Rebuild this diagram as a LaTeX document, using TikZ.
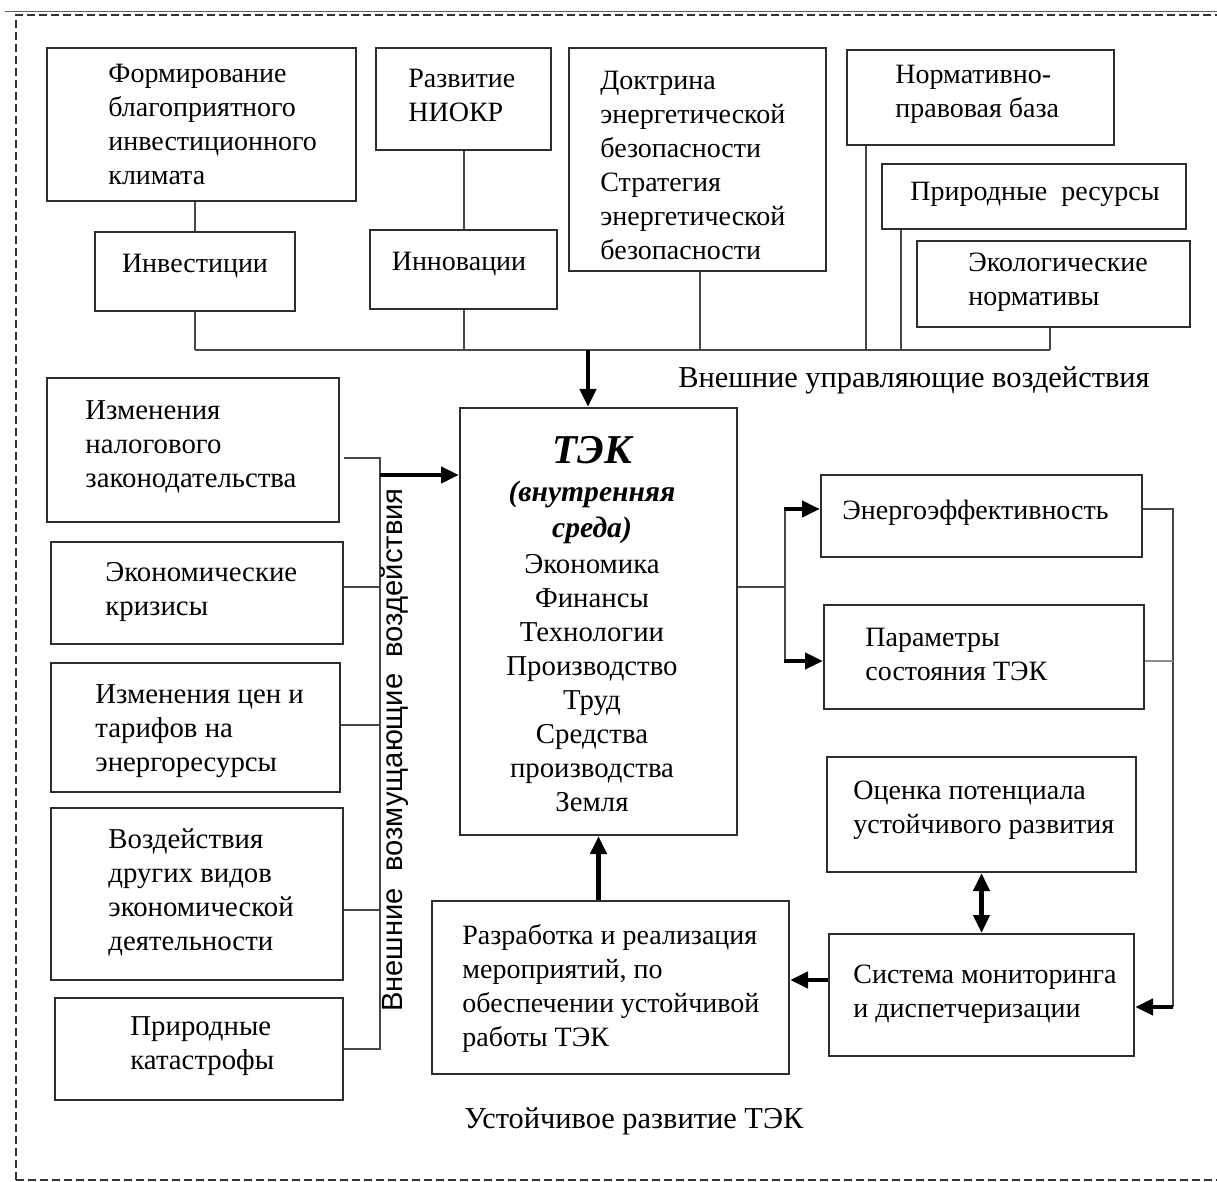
\documentclass[tikz,border=0pt]{standalone}
\usepackage{fontspec}
\setmainfont{Liberation Serif}
\newfontfamily\sansf{Liberation Sans}
\usetikzlibrary{arrows.meta,calc,fit}

% rectangle given by its two corners (in px units)
\newcommand\mkbox[5]{\node[box, fit={(#2,#3) (#4,#5)}] (#1) {};}

\begin{document}
\begin{tikzpicture}[x=0.5pt,y=-0.5pt,
  box/.style={draw=black!82, line width=1pt, inner sep=0pt},
  txt/.style={align=left, inner sep=0pt, anchor=west, font=\fontsize{14}{17}\selectfont},
  ltxt/.style={txt, font=\fontsize{14.4}{17}\selectfont},
  ctxt/.style={align=center, inner sep=0pt, font=\fontsize{14}{17}\selectfont},
  conn/.style={draw=black!72, line width=1pt},
  bigarrow/.style={draw=black, line width=2.4pt, -{Triangle[length=9pt,width=8pt]}},
  frame/.style={draw=black!80, line width=0.8pt, dash pattern=on 4pt off 2pt},
]
\useasboundingbox (0,0) rectangle (1217,1182);

% outer frame
\draw[draw=blue!55!cyan, line width=0.5pt] (5,12) -- (1217,12);
\draw[frame] (16,1180) -- (16,15) -- (1217,15);
\draw[frame] (16,1180) -- (1217,1180);

% ---- upper group: controlling influences ----
\mkbox{form}{47}{48}{356}{201}
\mkbox{inv}{95}{232}{295}{311}
\mkbox{niokr}{376}{48}{551}{150}
\mkbox{inn}{370}{230}{557}{309}
\mkbox{dokt}{569}{48}{826}{271}
\mkbox{norm}{847}{50}{1114}{145}
\mkbox{res}{882}{164}{1186}{229}
\mkbox{eco}{917}{241}{1190}{327}

\node[txt] (t-form) at (108,124.5) {Формирование\\благоприятного\\инвестиционного\\климата};
\node[ctxt] (t-inv) at (195,266) {Инвестиции};
\node[txt] (t-niokr) at (408,95) {Развитие\\НИОКР};
\node[ctxt] (t-inn) at (459,264) {Инновации};
\node[txt] (t-dokt) at (600,165) {Доктрина\\энергетической\\безопасности\\Стратегия\\энергетической\\безопасности};
\node[txt] (t-norm) at (895,94.5) {Нормативно-\\правовая база};
\node[txt] (t-res) at (910,194) {Природные\ \ ресурсы};
\node[txt] (t-eco) at (968,282.5) {Экологические\\нормативы};
\node[txt, font=\fontsize{15.2}{18}\selectfont] (t-upper) at (678,380) {Внешние управляющие воздействия};

\coordinate (busL) at (190,350);
\coordinate (busR) at (1050,350);
\coordinate (busA) at (588,350);
\coordinate (xD) at (700,350);
\coordinate (xN) at (866,350);
\coordinate (xP) at (901,350);

\draw[conn] (busL -| inv.south) -- (busR);
\draw[conn] (inv.north) -- (inv.north |- form.south);
\draw[conn] (inv.south) -- (inv.south |- busL);
\draw[conn] (inn.north) -- (inn.north |- niokr.south);
\draw[conn] (inn.south) -- (inn.south |- busL);
\draw[conn] (xD |- dokt.south) -- (xD);
\draw[conn] (xN |- norm.south) -- (xN);
\draw[conn] (xP |- res.south) -- (xP);
\draw[conn] (busR |- eco.south) -- (busR);

% ---- central block ----
\mkbox{tek}{460}{408}{737}{835}
\node[inner sep=0pt, font=\fontsize{20.5}{24}\selectfont\bfseries\itshape] (t-tek) at (592,450) {ТЭК};
\node[ctxt, font=\fontsize{14.8}{18}\selectfont\bfseries\itshape] (t-sreda) at (592,512) {(внутренняя\\среда)};
\node[ctxt, font=\fontsize{14.4}{17}\selectfont] (t-list) at (592,683.5) {Экономика\\Финансы\\Технологии\\Производство\\Труд\\Средства\\производства\\Земля};

\draw[bigarrow] (busA) -- (busA |- tek.north);

% ---- left group: disturbing influences ----
\mkbox{nal}{47}{378}{339}{522}
\mkbox{krz}{51}{542}{343}{644}
\mkbox{cen}{51}{663}{340}{792}
\mkbox{vzd}{51}{808}{343}{980}
\mkbox{kat}{55}{998}{343}{1100}

\node[ltxt] (t-nal) at (85,447) {Изменения\\налогового\\законодательства};
\node[ltxt] (t-krz) at (105,592.5) {Экономические\\кризисы};
\node[ltxt] (t-cen) at (95,731) {Изменения цен и\\тарифов на\\энергоресурсы};
\node[ltxt] (t-vzd) at (108,892.5) {Воздействия\\других видов\\экономической\\деятельности};
\node[ltxt] (t-kat) at (130,1046) {Природные\\катастрофы};

\coordinate (lbT) at (380,458);
\coordinate (lbA) at (380,475);
\coordinate (lb2) at (380,587);
\coordinate (lb3) at (380,725);
\coordinate (lb4) at (380,910);
\coordinate (lbB) at (380,1049);

\draw[conn] ([xshift=2pt]lbT -| nal.east) -- (lbT) -- (lbB) -- (lbB -| kat.east);
\draw[conn] (lb2 -| krz.east) -- (lb2);
\draw[conn] (lb3 -| cen.east) -- (lb3);
\draw[conn] (lb4 -| vzd.east) -- (lb4);
\draw[bigarrow] (lbA) -- (lbA -| tek.west);

\node[inner sep=0pt, rotate=90, font=\sansf\fontsize{14.6}{17}\selectfont] (t-lower) at (395,750) {Внешние\ \ возмущающие\ \ воздействия};

% ---- right group: outputs and feedback ----
\mkbox{enr}{821}{475}{1142}{557}
\mkbox{par}{824}{605}{1144}{709}
\mkbox{ocn}{827}{757}{1136}{872}
\mkbox{sys}{829}{934}{1134}{1056}
\mkbox{raz}{432}{901}{789}{1074}

\node[txt] (t-enr) at (842,513) {Энергоэффективность};
\node[txt] (t-par) at (865,654) {Параметры\\состояния ТЭК};
\node[txt] (t-ocn) at (853,810.5) {Оценка потенциала\\устойчивого развития};
\node[txt] (t-sys) at (853,994) {Система мониторинга\\и диспетчеризации};
\node[txt] (t-raz) at (462,988) {Разработка и реализация\\мероприятий, по\\обеспечении устойчивой\\работы ТЭК};
\node[txt, font=\fontsize{15.2}{18}\selectfont] (t-bottom) at (464,1121) {Устойчивое развитие ТЭК};

\coordinate (rj) at (785,587);
\coordinate (rjT) at (785,509);
\coordinate (rjB) at (785,661);
\draw[conn] (rj -| tek.east) -- (rj);
\draw[conn] (rjT) -- (rjB);
\draw[bigarrow] ([xshift=-0.5pt]rjT) -- (rjT -| enr.west);
\draw[bigarrow] ([xshift=-0.5pt]rjB) -- (rjB -| par.west);

\coordinate (rv) at (1173,509);
\coordinate (rvM) at (1173,661);
\coordinate (rvB) at (1173,1007);
\draw[conn] (rv -| enr.east) -- (rv) -- (rvB);
\draw[conn, draw=black!45] (rvM -| par.east) -- (rvM);
\draw[bigarrow] (rvB) -- (rvB -| sys.east);

\coordinate (sa) at (829,980);
\draw[bigarrow] (sa -| sys.west) -- (sa -| raz.east);
\draw[bigarrow] (tek.south |- raz.north) -- (tek.south);
\draw[draw=black, line width=2.4pt, {Triangle[length=9pt,width=8pt]}-{Triangle[length=9pt,width=8pt]}] (ocn.south) -- (ocn.south |- sys.north);
\end{tikzpicture}
\end{document}
